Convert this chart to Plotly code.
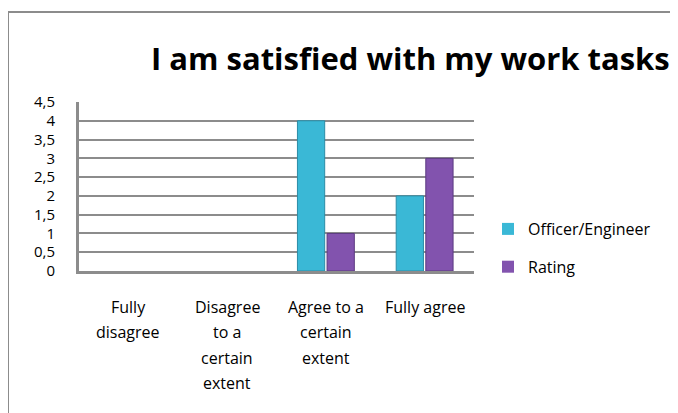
import plotly.graph_objects as go

categories = ["Fully disagree", "Disagree to a certain extent", "Agree to a certain extent", "Fully agree"]
category_lines = [["Fully", "disagree"], ["Disagree", "to a", "certain", "extent"],
                  ["Agree to a", "certain", "extent"], ["Fully agree"]]
officer_engineer = [0, 0, 4, 2]
rating = [0, 0, 1, 3]
y_tick_vals = [0, 0.5, 1, 1.5, 2, 2.5, 3, 3.5, 4, 4.5]
y_tick_text = ["0", "0,5", "1", "1,5", "2", "2,5", "3", "3,5", "4", "4,5"]
title_text = "I am satisfied with my work tasks"

OFF = 8  # page body margin offset
W, H = 678, 413
PL, PR, PT, PB = 79, 474, 102, 271  # plot area in screen pixels
L = PL - OFF
T = PT - OFF
pw, ph = PR - PL, PB - PT
R = W - L - pw
B = H - T - ph
FONT = "Open Sans"

def px_x(p):
    return (p - PL) / pw

def px_y(p):
    return (PB - p) / ph

fig = go.Figure()
fig.add_trace(go.Bar(
    x=categories, y=officer_engineer, name="Officer/Engineer",
    marker=dict(color="#3ab8d6",
                line=dict(color="#2a8ca6", width=[1 if v > 0 else 0 for v in officer_engineer])),
    legendgroup="a",
))
fig.add_trace(go.Bar(
    x=categories, y=rating, name="Rating",
    marker=dict(color="#8253ae",
                line=dict(color="#5b3a80", width=[1 if v > 0 else 0 for v in rating])),
    legendgroup="b",
))

# outer chart frame (left and top edges visible)
fig.add_shape(type="line", xref="paper", yref="paper",
              x0=px_x(8), x1=px_x(8), y0=px_y(430), y1=px_y(12),
              line=dict(color="#8c8c8c", width=2))
fig.add_shape(type="line", xref="paper", yref="paper",
              x0=px_x(8), x1=px_x(700), y0=px_y(12), y1=px_y(12),
              line=dict(color="#8c8c8c", width=2))

fig.add_annotation(text="<b>" + title_text + "</b>", xref="paper", yref="paper",
                   x=px_x(410), y=px_y(58), xanchor="center", yanchor="middle",
                   showarrow=False, font=dict(family=FONT, size=31, color="#000000"))

# category labels, one line each
for cat, lines in zip(categories, category_lines):
    for i, line in enumerate(lines):
        fig.add_annotation(text=line, x=cat, xref="x", yref="paper", y=0,
                           xanchor="center", yanchor="middle",
                           yshift=-(36 + i * 25.3), showarrow=False,
                           font=dict(family=FONT, size=16, color="#000000"))

fig.update_layout(
    width=W, height=H, autosize=False,
    margin=dict(l=L, r=R, t=T, b=B),
    paper_bgcolor="white", plot_bgcolor="white",
    barmode="group", bargap=0.4, bargroupgap=0.08,
    font=dict(family=FONT, size=16, color="#000000"),
    showlegend=True,
    legend=dict(x=px_x(488), y=px_y(212), xanchor="left", yanchor="top",
                font=dict(family=FONT, size=16), tracegroupgap=14,
                bgcolor="rgba(0,0,0,0)", itemwidth=30),
)
fig.update_xaxes(showgrid=False, showline=True, linecolor="#8c8c8c", linewidth=3,
                 ticks="", showticklabels=False)
fig.update_yaxes(range=[0, 4.5], tickvals=y_tick_vals, ticktext=y_tick_text,
                 showgrid=True, gridcolor="#8c8c8c", gridwidth=2,
                 showline=True, linecolor="#8c8c8c", linewidth=3,
                 ticks="", tickfont=dict(size=15), zeroline=False,
                 ticklabelstandoff=18)

fig.write_html("out.html")
